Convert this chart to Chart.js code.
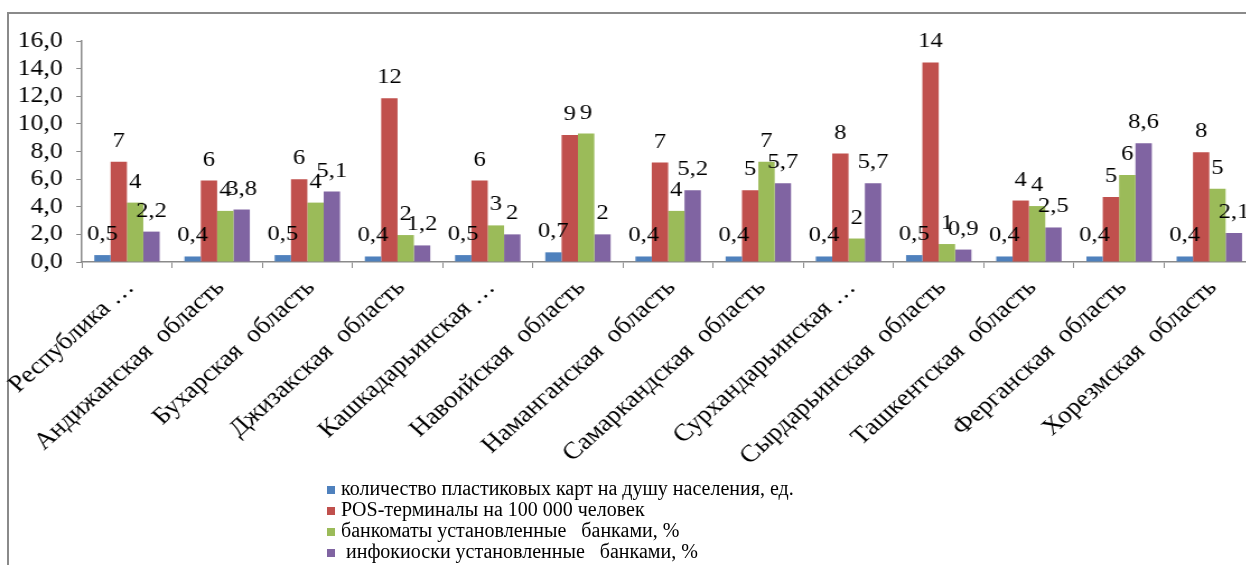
<!DOCTYPE html>
<html>
<head>
    <meta charset="utf-8">
    <title>Платёжная инфраструктура по регионам</title>
    <script src="https://cdn.jsdelivr.net/npm/chart.js"></script>
    <style>
        html, body { margin: 0; padding: 0; background: #fff; overflow: hidden; width: 1246px; height: 565px; }
        .frame { position: absolute; left: 7px; top: 12px; width: 1400px; height: 700px; border-left: 2px solid #8a8a8a; border-top: 2px solid #8a8a8a; }
        /* исходная картинка растянута по горизонтали примерно в 1.12 раза */
        .chart-box { position: absolute; left: 0; top: 0; width: 1127px; height: 565px; transform: scaleX(1.12); transform-origin: 0 0; }
        #legend { position: absolute; left: 327px; top: 478px; font-family: 'Liberation Serif', 'Times New Roman', serif; font-size: 20px; color: #000; }
        #legend div { height: 21px; line-height: 21px; white-space: pre; }
        #legend span.box { display: inline-block; width: 8px; height: 8px; margin-right: 6px; vertical-align: 1px; }
    </style>
</head>
<body>
    <div class="frame"></div>
    <div class="chart-box"><canvas id="regionsChart"></canvas></div>
    <div id="legend"></div>
    <script>
        // категории (регионы)
        const regions = [
            'Республика …', 'Андижанская  область', 'Бухарская  область', 'Джизакская  область',
            'Кашкадарьинская …', 'Навоийская  область', 'Наманганская  область', 'Самаркандская  область',
            'Сурхандарьинская …', 'Сырдарьинская  область', 'Ташкентская  область', 'Ферганская  область',
            'Хорезмская  область'
        ];
        const seriesNames = [
            'количество пластиковых карт на душу населения, ед.',
            'POS-терминалы на 100 000 человек',
            'банкоматы установленные   банками, %',
            ' инфокиоски установленные   банками, %'
        ];
        const cards = [0.5, 0.4, 0.5, 0.4, 0.5, 0.7, 0.4, 0.4, 0.4, 0.5, 0.4, 0.4, 0.4];
        const posTerminals = [7.25, 5.9, 6.0, 11.85, 5.9, 9.2, 7.2, 5.2, 7.85, 14.45, 4.45, 4.7, 7.95];
        const atms = [4.3, 3.7, 4.3, 1.95, 2.65, 9.3, 3.7, 7.25, 1.7, 1.3, 4.05, 6.3, 5.3];
        const kiosks = [2.2, 3.8, 5.1, 1.2, 2.0, 2.0, 5.2, 5.7, 5.7, 0.9, 2.5, 8.6, 2.1];
        const yTicks = [0, 2, 4, 6, 8, 10, 12, 14, 16];
        const colors = ['#4F81BD', '#C0504D', '#9BBB59', '#8064A2'];

        const serif = "'Liberation Serif', 'Times New Roman', serif";
        const comma = v => String(v).replace('.', ',');
        const rounded = v => String(Math.round(v));
        const formats = [comma, rounded, rounded, comma];

        // подписи значений над столбцами
        const valueLabels = {
            id: 'valueLabels',
            afterDatasetsDraw(chart) {
                const ctx = chart.ctx;
                ctx.save();
                ctx.font = '22px ' + serif;
                ctx.fillStyle = '#000';
                ctx.textAlign = 'center';
                ctx.textBaseline = 'alphabetic';
                chart.data.datasets.forEach((ds, i) => {
                    chart.getDatasetMeta(i).data.forEach((bar, j) => {
                        ctx.fillText(formats[i](ds.data[j]), bar.x, bar.y - 15);
                    });
                });
                ctx.restore();
            }
        };

        const allSeries = [cards, posTerminals, atms, kiosks];
        new Chart(document.getElementById('regionsChart'), {
            type: 'bar',
            data: {
                labels: regions,
                datasets: allSeries.map((s, i) => ({
                    label: seriesNames[i],
                    data: s,
                    backgroundColor: colors[i],
                    categoryPercentage: 0.725,
                    barPercentage: 1.0
                }))
            },
            options: {
                responsive: true,
                maintainAspectRatio: false,
                animation: false,
                layout: { padding: { left: 7, top: 41, right: 7, bottom: 100 } },
                plugins: { legend: { display: false }, tooltip: { enabled: false } },
                scales: {
                    x: {
                        grid: { drawOnChartArea: false, color: '#8a8a8a', tickLength: 6 },
                        border: { color: '#8a8a8a', width: 1.5 },
                        ticks: {
                            autoSkip: false, maxRotation: 45, minRotation: 45,
                            color: '#000', font: { family: serif, size: 24 }, padding: 6, labelOffset: 3
                        },
                        afterFit: s => { s.height = 203; }
                    },
                    y: {
                        min: 0, max: 16,
                        afterBuildTicks: s => { s.ticks = yTicks.map(v => ({ value: v })); },
                        grid: { drawOnChartArea: false, color: '#8a8a8a', tickLength: 5 },
                        border: { color: '#8a8a8a', width: 1.5 },
                        ticks: {
                            autoSkip: false,
                            color: '#000', font: { family: serif, size: 23 }, padding: 12,
                            callback: v => v.toFixed(1).replace('.', ',')
                        },
                        afterFit: s => { s.width = 66; }
                    }
                }
            },
            plugins: [valueLabels]
        });

        // легенда
        document.getElementById('legend').innerHTML = seriesNames.map((n, i) =>
            `<div><span class="box" style="background:${colors[i]}"></span>${n}</div>`).join('');
    </script>
</body>
</html>
